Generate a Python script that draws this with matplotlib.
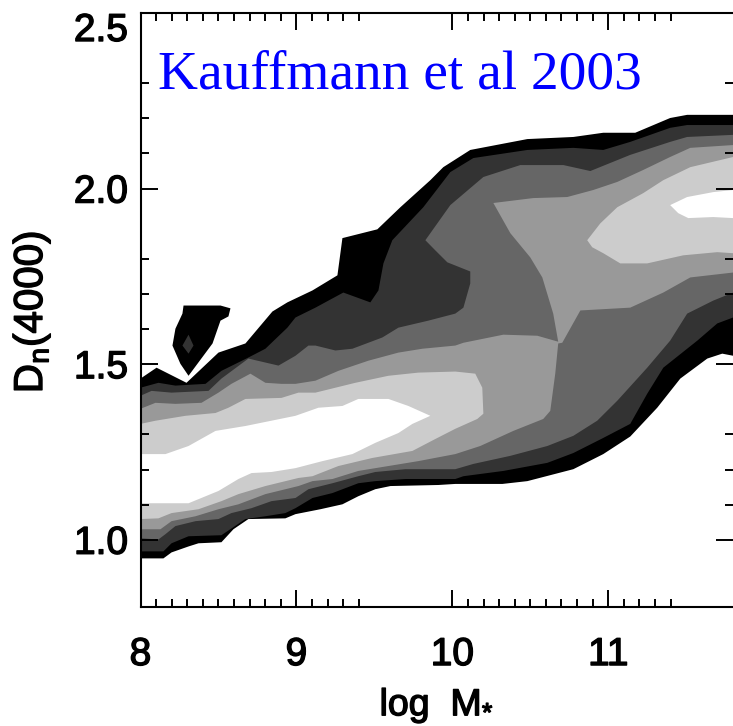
import matplotlib
matplotlib.use('Agg')
import matplotlib.pyplot as plt
import matplotlib.patheffects as pe

plt.rcParams['font.family'] = ['Liberation Sans', 'DejaVu Sans']
plt.rcParams['mathtext.fontset'] = 'custom'
plt.rcParams['mathtext.rm'] = 'Liberation Sans'
plt.rcParams['mathtext.it'] = 'Liberation Sans'

# contour outlines: (log M, Dn4000)
black_x_up = [8.00, 8.103, 8.179, 8.295, 8.500, 8.673, 8.846, 8.942, 9.103, 9.263, 9.295, 9.519, 9.667, 9.859, 9.942, 10.115, 10.481, 10.776, 10.968, 11.173, 11.397, 11.506, 11.801]
black_y_up = [1.459, 1.490, 1.473, 1.447, 1.533, 1.559, 1.650, 1.676, 1.710, 1.753, 1.859, 1.884, 1.947, 2.024, 2.061, 2.110, 2.141, 2.147, 2.159, 2.159, 2.201, 2.210, 2.210]
black_x_lo = [8.00, 8.147, 8.199, 8.308, 8.372, 8.519, 8.596, 8.692, 8.929, 8.994, 9.154, 9.295, 9.397, 9.506, 9.603, 9.910, 10.019, 10.321, 10.481, 10.776, 10.968, 11.141, 11.314, 11.462, 11.635, 11.731, 11.801]
black_y_lo = [0.947, 0.947, 0.964, 0.981, 0.990, 0.993, 1.030, 1.059, 1.061, 1.073, 1.087, 1.101, 1.124, 1.144, 1.153, 1.156, 1.159, 1.159, 1.167, 1.201, 1.244, 1.294, 1.376, 1.459, 1.516, 1.530, 1.524]

dark_x_up = [8.00, 8.115, 8.224, 8.417, 8.519, 8.692, 8.801, 8.942, 8.994, 9.122, 9.205, 9.301, 9.474, 9.526, 9.558, 9.615, 9.814, 9.987, 10.135, 10.481, 10.776, 10.968, 11.141, 11.397, 11.506, 11.801]
dark_y_up = [1.433, 1.447, 1.439, 1.444, 1.481, 1.519, 1.544, 1.604, 1.633, 1.661, 1.681, 1.704, 1.676, 1.710, 1.787, 1.853, 1.947, 2.047, 2.087, 2.110, 2.116, 2.110, 2.133, 2.173, 2.181, 2.181]
dark_x_lo = [8.00, 8.147, 8.199, 8.308, 8.519, 8.673, 8.801, 8.929, 8.994, 9.103, 9.231, 9.397, 9.506, 9.699, 10.019, 10.071, 10.327, 10.609, 10.776, 10.968, 11.141, 11.250, 11.353, 11.571, 11.699, 11.801]
dark_y_lo = [0.967, 0.967, 0.990, 1.010, 1.013, 1.059, 1.067, 1.076, 1.090, 1.119, 1.133, 1.161, 1.167, 1.173, 1.173, 1.181, 1.196, 1.219, 1.247, 1.290, 1.330, 1.416, 1.490, 1.567, 1.616, 1.633]

gray_x_up = [8.00, 8.071, 8.199, 8.436, 8.519, 8.692, 8.885, 8.994, 9.077, 9.122, 9.250, 9.359, 9.551, 9.654, 9.846, 10.019, 10.071, 10.115, 10.115, 9.968, 9.891, 9.827, 9.987, 10.199, 10.436, 10.712, 10.885, 11.141, 11.397, 11.506, 11.801]
gray_y_up = [1.410, 1.424, 1.419, 1.424, 1.459, 1.516, 1.496, 1.524, 1.553, 1.553, 1.539, 1.544, 1.576, 1.604, 1.624, 1.644, 1.661, 1.730, 1.764, 1.790, 1.824, 1.853, 1.953, 2.033, 2.067, 2.067, 2.050, 2.096, 2.133, 2.147, 2.153]
gray_x_lo = [8.00, 8.115, 8.160, 8.224, 8.353, 8.500, 8.583, 8.712, 8.840, 8.994, 9.077, 9.231, 9.397, 9.506, 9.699, 10.019, 10.135, 10.372, 10.609, 10.776, 10.929, 11.058, 11.250, 11.397, 11.506, 11.673, 11.801]
gray_y_lo = [1.004, 1.001, 1.016, 1.039, 1.053, 1.059, 1.076, 1.090, 1.110, 1.119, 1.144, 1.161, 1.181, 1.193, 1.201, 1.201, 1.216, 1.239, 1.267, 1.296, 1.339, 1.396, 1.490, 1.567, 1.644, 1.681, 1.704]

mid_x_up = [8.00, 8.096, 8.224, 8.391, 8.500, 8.583, 8.705, 8.801, 8.904, 8.994, 9.122, 9.269, 9.462, 9.654, 9.808, 10.019, 10.071, 10.327, 10.545, 10.679, 10.647, 10.577, 10.500, 10.372, 10.263, 10.519, 10.737, 10.904, 11.058, 11.224, 11.397, 11.526, 11.801]
mid_y_up = [1.373, 1.390, 1.387, 1.390, 1.419, 1.444, 1.473, 1.447, 1.444, 1.444, 1.453, 1.481, 1.510, 1.533, 1.544, 1.553, 1.561, 1.584, 1.581, 1.564, 1.644, 1.747, 1.804, 1.873, 1.959, 1.973, 1.976, 1.996, 2.019, 2.053, 2.090, 2.116, 2.124]
mid_x_lo = [8.00, 8.128, 8.199, 8.353, 8.500, 8.628, 8.801, 9.013, 9.103, 9.231, 9.397, 9.590, 9.782, 10.019, 10.179, 10.391, 10.583, 10.628, 10.660, 10.679, 10.705, 10.821, 11.141, 11.353, 11.526, 11.801]
mid_y_lo = [1.030, 1.030, 1.053, 1.067, 1.087, 1.101, 1.130, 1.153, 1.167, 1.173, 1.196, 1.210, 1.224, 1.244, 1.267, 1.310, 1.344, 1.367, 1.473, 1.559, 1.561, 1.653, 1.661, 1.704, 1.747, 1.761]

light_left_x = [8.00, 8.096, 8.288, 8.481, 8.564, 8.673, 8.904, 9.013, 9.122, 9.378, 9.590, 9.782, 10.019, 10.147, 10.192, 10.199, 10.160, 10.019, 9.891, 9.744, 9.487, 9.269, 9.103, 9.013, 8.801, 8.628, 8.519, 8.372, 8.199, 8.115, 8.00]
light_left_y = [1.330, 1.339, 1.353, 1.361, 1.376, 1.401, 1.404, 1.419, 1.419, 1.447, 1.467, 1.476, 1.479, 1.473, 1.433, 1.359, 1.344, 1.316, 1.287, 1.253, 1.233, 1.210, 1.181, 1.176, 1.153, 1.130, 1.110, 1.087, 1.076, 1.061, 1.059]
light_right_x = [10.865, 10.949, 11.058, 11.224, 11.353, 11.526, 11.801, 11.801, 11.699, 11.481, 11.250, 11.077, 10.968, 10.897]
light_right_y = [1.853, 1.901, 1.947, 1.987, 2.024, 2.061, 2.090, 1.816, 1.819, 1.810, 1.787, 1.787, 1.816, 1.833]

white_left_x = [8.00, 8.160, 8.308, 8.481, 8.673, 8.994, 9.141, 9.295, 9.397, 9.590, 9.718, 9.859, 9.744, 9.654, 9.506, 9.359, 9.167, 8.994, 8.840, 8.712, 8.628, 8.500, 8.308, 8.00]
white_left_y = [1.244, 1.244, 1.267, 1.310, 1.324, 1.353, 1.376, 1.381, 1.401, 1.401, 1.381, 1.353, 1.330, 1.304, 1.276, 1.244, 1.224, 1.204, 1.193, 1.190, 1.173, 1.139, 1.104, 1.104]
white_right_x = [11.397, 11.506, 11.673, 11.801, 11.801, 11.673, 11.513, 11.449]
white_right_y = [1.953, 1.976, 1.990, 1.996, 1.916, 1.919, 1.916, 1.930]

blob_x = [8.276, 8.513, 8.577, 8.564, 8.513, 8.462, 8.308, 8.256, 8.205, 8.224, 8.269]
blob_y = [1.667, 1.667, 1.659, 1.636, 1.624, 1.559, 1.467, 1.501, 1.553, 1.601, 1.644]
blob_in_x = [8.308, 8.340, 8.308, 8.269]
blob_in_y = [1.584, 1.553, 1.530, 1.553]

x_major = [8, 9, 10, 11]
x_minor = [8.1, 8.2, 8.3, 8.4, 8.5, 8.6, 8.7, 8.8, 8.9, 9.1, 9.2, 9.3, 9.4,
           10.1, 10.2, 10.3, 10.4, 10.5, 10.6, 10.7, 10.8, 10.9, 11.1, 11.2, 11.3, 11.4]
y_major = [1.0, 1.5, 2.0, 2.5]
y_labels = ['1.0', '1.5', '2.0', '2.5']
y_minor = [1.1, 1.2, 1.3, 1.6, 1.7, 1.8, 2.1, 2.2, 2.3]

fig = plt.figure(figsize=(7.33, 7.26), dpi=100)
ax = fig.add_axes([140.5/733, (726-606.5)/726, 592.5/733, 593.5/726])

bands = [(black_x_up, black_y_up, black_x_lo, black_y_lo, '#000000'),
         (dark_x_up, dark_y_up, dark_x_lo, dark_y_lo, '#333333'),
         (gray_x_up, gray_y_up, gray_x_lo, gray_y_lo, '#666666'),
         (mid_x_up, mid_y_up, mid_x_lo, mid_y_lo, '#999999')]
for xu, yu, xl, yl, c in bands:
    ax.fill(xu + xl[::-1], yu + yl[::-1], color=c, lw=0)

ax.fill(light_left_x, light_left_y, color='#cccccc', lw=0)
ax.fill(light_right_x, light_right_y, color='#cccccc', lw=0)
ax.fill(white_left_x, white_left_y, color='white', lw=0)
ax.fill(white_right_x, white_right_y, color='white', lw=0)
ax.fill(blob_x, blob_y, color='#000000', lw=0)
ax.fill(blob_in_x, blob_in_y, color='#333333', lw=0)

ax.set_xlim(8, 11.8)
ax.set_ylim(0.81, 2.5)
ax.spines['right'].set_visible(False)
for s in ['left', 'top', 'bottom']:
    ax.spines[s].set_linewidth(1.5)

ax.set_xticks(x_major)
ax.set_xticks(x_minor, minor=True)
ax.set_yticks(y_major, y_labels)
ax.set_yticks(y_minor, minor=True)
ax.tick_params(which='both', direction='in', top=True, right=True, width=1.4, zorder=5)
ax.tick_params(which='major', length=12.5)
ax.tick_params(which='minor', length=6)
ax.tick_params(axis='x', which='major', labelsize=28, pad=22)
ax.tick_params(axis='y', which='major', labelsize=28, pad=9)
ax.get_yticklabels()[-1].set_verticalalignment('top')

ax.set_xlabel(r'log  M$_{*}$', fontsize=27)
ax.xaxis.set_label_coords(0.5, -0.133)
ax.set_ylabel(r'D$_{\mathrm{n}}$(4000)', fontsize=29)
ax.yaxis.set_label_coords(-0.149, 0.496)

heavy = [pe.withStroke(linewidth=1.0, foreground='black')]
for t in ax.get_xticklabels() + ax.get_yticklabels() + [ax.xaxis.label, ax.yaxis.label]:
    t.set_path_effects(heavy)

ax.text(8.115, 2.284, 'Kauffmann et al 2003', color='#0000ff', fontsize=39.9,
        family='Liberation Serif', va='baseline')

plt.savefig('out.png', dpi=100)
